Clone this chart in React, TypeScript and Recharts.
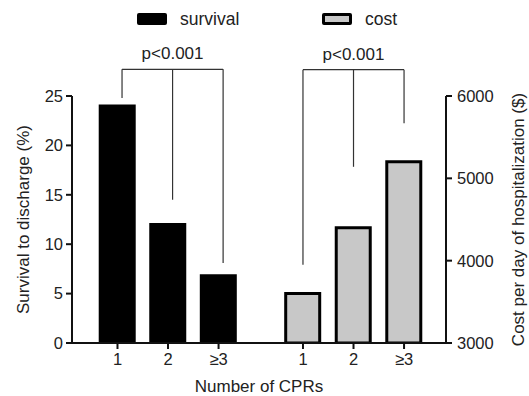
import React from 'react';
import { ComposedChart, Bar, XAxis, YAxis, ReferenceLine, Legend } from 'recharts';

const groups = ['1', '2', '≥3'];
const survival = [24, 12, 6.8];
const cost = [3600, 4400, 5200];

// where each bracket leg stops, in the units of its own axis
const survivalLegs = [24.8, 14.5, 8.1];
const costLegs = [3950, 5140, 5670];
const survivalBracketTop = 27.7;
const costBracketTop = 6320;
const pLabel = 'p<0.001';

const survivalTicks = [0, 5, 10, 15, 20, 25];
const costTicks = [3000, 4000, 5000, 6000];

// the cost group sits a bit less than two slots to the right of the survival group
const costShift = 3.67;

const rows = [
  ...survival.map((v, i) => ({ x: i + 1, survival: v, cost: null })),
  ...cost.map((v, i) => ({ x: i + 1 + costShift, survival: null, cost: v })),
];
const tickPos = rows.map((r) => r.x);
const tickText = new Map(rows.map((r, i) => [r.x, groups[i % groups.length]]));

const INK = '#222';
const GREY = '#c8c8c8';

const renderLegend = () => (
  <div style={{ display: 'flex', alignItems: 'center', height: 38, paddingLeft: 137, fontSize: 17.5, color: INK }}>
    <span style={{ width: 30, height: 12, background: '#000', borderRadius: 2 }} />
    <span style={{ marginLeft: 13, width: 142 }}>survival</span>
    <span style={{ width: 30, height: 12, background: GREY, border: '3px solid #000', boxSizing: 'border-box', borderRadius: 2 }} />
    <span style={{ marginLeft: 13 }}>cost</span>
  </div>
);

export default function App() {
  const axisLine = { stroke: '#111', strokeWidth: 2 };
  const tick = { fontSize: 16.5, fill: INK };
  const bracket = { stroke: '#333', strokeWidth: 1.2, ifOverflow: 'visible' as const };

  return (
    <div style={{ position: 'absolute', left: 0, top: 0, fontFamily: '"Liberation Sans", Arial, sans-serif' }}>
      <ComposedChart width={529} height={396} data={rows} margin={{ top: 58, right: 0, bottom: 0, left: 0 }}>
        <Legend verticalAlign="top" align="left" content={renderLegend} wrapperStyle={{ top: 0, left: 0, width: 529, height: 38 }} />
        <XAxis
          xAxisId="s"
          type="number"
          dataKey="x"
          domain={[0.1, 7.5]}
          allowDataOverflow
          ticks={tickPos}
          tickFormatter={(v: number) => tickText.get(v) ?? ''}
          height={53}
          tickSize={6}
          tickMargin={4}
          axisLine={axisLine}
          tickLine={axisLine}
          tick={tick}
          label={{ value: 'Number of CPRs', position: 'insideBottom', offset: 4, fontSize: 17, fill: INK }}
        />
        <XAxis xAxisId="c" type="number" dataKey="x" domain={[0.1, 7.5]} allowDataOverflow hide height={0} />
        <YAxis
          yAxisId="left"
          domain={[0, 25]}
          ticks={survivalTicks}
          allowDataOverflow
          width={72}
          tickSize={6}
          tickMargin={3}
          axisLine={axisLine}
          tickLine={axisLine}
          tick={tick}
          label={{ value: 'Survival to discharge (%)', angle: -90, position: 'insideLeft', offset: 23, fontSize: 17, fill: INK, style: { textAnchor: 'middle' } }}
        />
        <YAxis
          yAxisId="right"
          orientation="right"
          domain={[3000, 6000]}
          ticks={costTicks}
          allowDataOverflow
          width={83}
          tickSize={6}
          tickMargin={5}
          axisLine={axisLine}
          tickLine={axisLine}
          tick={tick}
          label={{ value: 'Cost per day of hospitalization ($)', angle: -90, position: 'insideRight', offset: 11, fontSize: 17, fill: INK, style: { textAnchor: 'middle' } }}
        />
        <Bar xAxisId="s" yAxisId="left" dataKey="survival" name="survival" barSize={34} fill="#000" stroke="#000" strokeWidth={3} isAnimationActive={false} />
        <Bar xAxisId="c" yAxisId="right" dataKey="cost" name="cost" barSize={34} fill={GREY} stroke="#000" strokeWidth={3} isAnimationActive={false} />

        {survivalLegs.map((top, i) => (
          <ReferenceLine
            key={`sl${i}`}
            xAxisId="s"
            yAxisId="left"
            segment={[{ x: i + 1.09, y: top }, { x: i + 1.09, y: survivalBracketTop }]}
            {...bracket}
          />
        ))}
        <ReferenceLine
          xAxisId="s"
          yAxisId="left"
          segment={[{ x: 1.09, y: survivalBracketTop }, { x: 3.09, y: survivalBracketTop }]}
          {...bracket}
          label={{ value: pLabel, position: 'top', offset: 10, fontSize: 17, fill: INK }}
        />
        {costLegs.map((top, i) => (
          <ReferenceLine
            key={`cl${i}`}
            xAxisId="c"
            yAxisId="right"
            segment={[{ x: i + 1 + costShift, y: top }, { x: i + 1 + costShift, y: costBracketTop }]}
            {...bracket}
          />
        ))}
        <ReferenceLine
          xAxisId="c"
          yAxisId="right"
          segment={[{ x: 1 + costShift, y: costBracketTop }, { x: 3 + costShift, y: costBracketTop }]}
          {...bracket}
          label={{ value: pLabel, position: 'top', offset: 10, fontSize: 17, fill: INK }}
        />
      </ComposedChart>
    </div>
  );
}
